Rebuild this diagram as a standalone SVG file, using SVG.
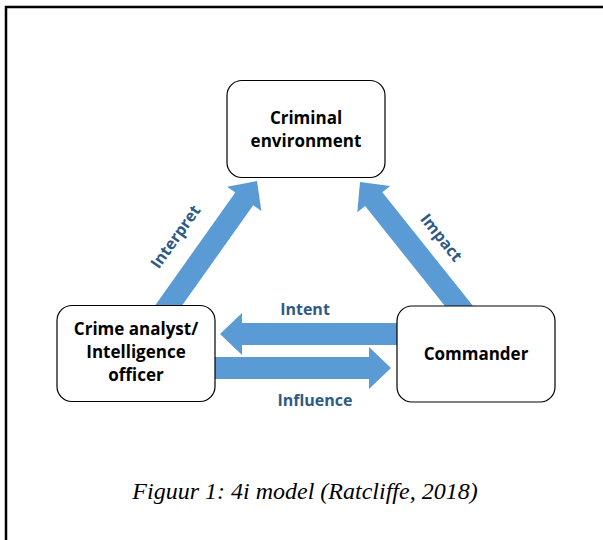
<svg xmlns="http://www.w3.org/2000/svg" width="603" height="540" viewBox="0 0 603 540">
  <style>
    .box { fill: #ffffff; stroke: #000000; stroke-width: 1.2; }
    .arrow { fill: #5b9bd5; }
    .node-text { font-family: "Open Sans", "Liberation Sans", sans-serif; font-weight: bold; font-size: 17px; fill: #000000; text-anchor: middle; }
    .edge-text { font-family: "Open Sans", "Liberation Sans", sans-serif; font-weight: bold; font-size: 16px; fill: #2e5a88; text-anchor: middle; }
    .caption { font-family: "Liberation Serif", serif; font-style: italic; font-size: 24px; fill: #000000; text-anchor: middle; }
  </style>

  <!-- frame -->
  <path d="M6,540 V7 H603" fill="none" stroke="#000000" stroke-width="2.5"/>

  <!-- connectors: block arrows, drawn beneath the nodes -->
  <g id="connectors">
    <!-- Interpret: analyst -> criminal environment -->
    <polygon class="arrow" transform="translate(257,181) rotate(-54.6)" points="0,0 -22,-21 -22,-11 -170,-11 -170,11 -22,11 -22,21"/>
    <!-- Impact: commander -> criminal environment -->
    <polygon class="arrow" transform="translate(360,182) rotate(-128.6)" points="0,0 -22,-21 -22,-11 -170,-11 -170,11 -22,11 -22,21"/>
    <!-- Intent: commander -> analyst -->
    <polygon class="arrow" points="220,334 242,313 242,323 400,323 400,345 242,345 242,355"/>
    <!-- Influence: analyst -> commander -->
    <polygon class="arrow" points="391,368 369,347 369,357 212,357 212,379 369,379 369,389"/>

    <text class="edge-text" transform="translate(180,240) rotate(-54.6)">Interpret</text>
    <text class="edge-text" transform="translate(437,241) rotate(51.4)">Impact</text>
    <text class="edge-text" x="305" y="315">Intent</text>
    <text class="edge-text" x="315" y="406">Influence</text>
  </g>

  <g id="criminal-environment">
    <rect class="box" x="227" y="80.5" width="158" height="97" rx="15"/>
    <text class="node-text" x="306" y="124">Criminal</text>
    <text class="node-text" x="306" y="147">environment</text>
  </g>

  <g id="crime-analyst">
    <rect class="box" x="57" y="305.5" width="158" height="96" rx="15"/>
    <text class="node-text" x="136" y="335">Crime analyst/</text>
    <text class="node-text" x="136" y="358">Intelligence</text>
    <text class="node-text" x="136" y="381">officer</text>
  </g>

  <g id="commander">
    <rect class="box" x="397" y="306" width="158" height="96" rx="15"/>
    <text class="node-text" x="476" y="360">Commander</text>
  </g>

  <text class="caption" x="305" y="499">Figuur 1: 4i model (Ratcliffe, 2018)</text>
</svg>
